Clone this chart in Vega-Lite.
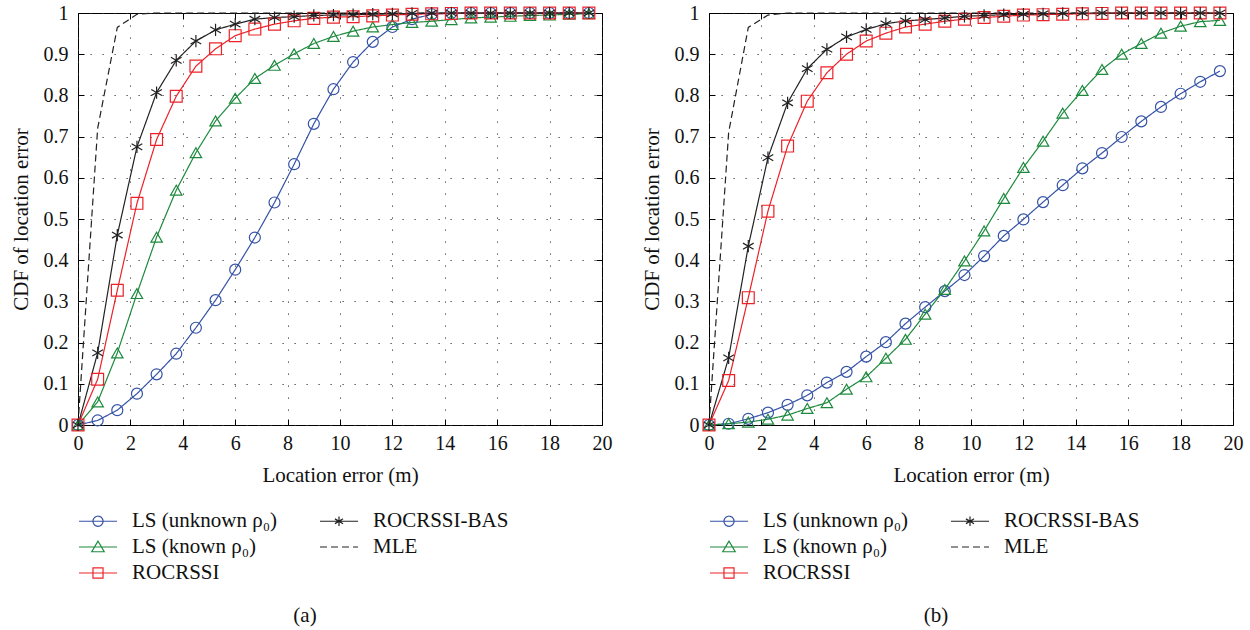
{
  "$schema": "https://vega.github.io/schema/vega-lite/v6.json",
  "background": "white",
  "padding": {"left": 9, "top": 2, "right": 5, "bottom": 2},
  "spacing": 27,
  "datasets": {
    "a": [
      {"x": 0, "u": 0, "k": 0, "r": 0, "b": 0, "m": 0},
      {"x": 0.75, "u": 0.011, "k": 0.056, "r": 0.111, "b": 0.175, "m": 0.72},
      {"x": 1.5, "u": 0.036, "k": 0.175, "r": 0.327, "b": 0.461, "m": 0.965},
      {"x": 2.25, "u": 0.076, "k": 0.319, "r": 0.538, "b": 0.675, "m": 0.997},
      {"x": 3, "u": 0.123, "k": 0.456, "r": 0.693, "b": 0.807, "m": 1},
      {"x": 3.75, "u": 0.173, "k": 0.57, "r": 0.798, "b": 0.885, "m": 1},
      {"x": 4.5, "u": 0.236, "k": 0.661, "r": 0.871, "b": 0.932, "m": 1},
      {"x": 5.25, "u": 0.303, "k": 0.738, "r": 0.913, "b": 0.959, "m": 1},
      {"x": 6, "u": 0.377, "k": 0.793, "r": 0.945, "b": 0.973, "m": 1},
      {"x": 6.75, "u": 0.455, "k": 0.841, "r": 0.961, "b": 0.985, "m": 1},
      {"x": 7.5, "u": 0.54, "k": 0.873, "r": 0.973, "b": 0.989, "m": 1},
      {"x": 8.25, "u": 0.633, "k": 0.901, "r": 0.981, "b": 0.991, "m": 1},
      {"x": 9, "u": 0.731, "k": 0.926, "r": 0.987, "b": 0.994, "m": 1},
      {"x": 9.75, "u": 0.815, "k": 0.943, "r": 0.99, "b": 0.995, "m": 1},
      {"x": 10.5, "u": 0.881, "k": 0.956, "r": 0.991, "b": 0.996, "m": 1},
      {"x": 11.25, "u": 0.93, "k": 0.966, "r": 0.993, "b": 0.997, "m": 1},
      {"x": 12, "u": 0.966, "k": 0.972, "r": 0.995, "b": 0.998, "m": 1},
      {"x": 12.75, "u": 0.985, "k": 0.977, "r": 0.997, "b": 0.999, "m": 1},
      {"x": 13.5, "u": 0.997, "k": 0.98, "r": 0.998, "b": 1, "m": 1},
      {"x": 14.25, "u": 1, "k": 0.984, "r": 0.999, "b": 1, "m": 1},
      {"x": 15, "u": 1, "k": 0.988, "r": 1, "b": 1, "m": 1},
      {"x": 15.75, "u": 1, "k": 0.99, "r": 1, "b": 1, "m": 1},
      {"x": 16.5, "u": 1, "k": 0.992, "r": 1, "b": 1, "m": 1},
      {"x": 17.25, "u": 1, "k": 0.994, "r": 1, "b": 1, "m": 1},
      {"x": 18, "u": 1, "k": 0.995, "r": 1, "b": 1, "m": 1},
      {"x": 18.75, "u": 1, "k": 0.997, "r": 1, "b": 1, "m": 1},
      {"x": 19.5, "u": 1, "k": 0.998, "r": 1, "b": 1, "m": 1}
    ],
    "b": [
      {"x": 0, "u": 0, "k": 0, "r": 0, "b": 0, "m": 0},
      {"x": 0.75, "u": 0.003, "k": 0.003, "r": 0.108, "b": 0.163, "m": 0.71},
      {"x": 1.5, "u": 0.015, "k": 0.007, "r": 0.309, "b": 0.434, "m": 0.965},
      {"x": 2.25, "u": 0.03, "k": 0.014, "r": 0.519, "b": 0.649, "m": 0.995},
      {"x": 3, "u": 0.049, "k": 0.024, "r": 0.677, "b": 0.782, "m": 1},
      {"x": 3.75, "u": 0.072, "k": 0.04, "r": 0.786, "b": 0.865, "m": 1},
      {"x": 4.5, "u": 0.103, "k": 0.054, "r": 0.855, "b": 0.912, "m": 1},
      {"x": 5.25, "u": 0.129, "k": 0.087, "r": 0.9, "b": 0.942, "m": 1},
      {"x": 6, "u": 0.166, "k": 0.117, "r": 0.932, "b": 0.96, "m": 1},
      {"x": 6.75, "u": 0.201, "k": 0.162, "r": 0.951, "b": 0.974, "m": 1},
      {"x": 7.5, "u": 0.246, "k": 0.208, "r": 0.966, "b": 0.981, "m": 1},
      {"x": 8.25, "u": 0.286, "k": 0.269, "r": 0.973, "b": 0.984, "m": 1},
      {"x": 9, "u": 0.325, "k": 0.329, "r": 0.98, "b": 0.988, "m": 1},
      {"x": 9.75, "u": 0.364, "k": 0.398, "r": 0.985, "b": 0.992, "m": 1},
      {"x": 10.5, "u": 0.41, "k": 0.471, "r": 0.989, "b": 0.994, "m": 1},
      {"x": 11.25, "u": 0.459, "k": 0.55, "r": 0.992, "b": 0.996, "m": 1},
      {"x": 12, "u": 0.499, "k": 0.625, "r": 0.995, "b": 0.997, "m": 1},
      {"x": 12.75, "u": 0.541, "k": 0.689, "r": 0.996, "b": 0.998, "m": 1},
      {"x": 13.5, "u": 0.582, "k": 0.757, "r": 0.997, "b": 0.999, "m": 1},
      {"x": 14.25, "u": 0.623, "k": 0.812, "r": 0.998, "b": 1, "m": 1},
      {"x": 15, "u": 0.66, "k": 0.863, "r": 0.999, "b": 1, "m": 1},
      {"x": 15.75, "u": 0.699, "k": 0.9, "r": 1, "b": 1, "m": 1},
      {"x": 16.5, "u": 0.737, "k": 0.926, "r": 1, "b": 1, "m": 1},
      {"x": 17.25, "u": 0.772, "k": 0.951, "r": 1, "b": 1, "m": 1},
      {"x": 18, "u": 0.804, "k": 0.968, "r": 1, "b": 1, "m": 1},
      {"x": 18.75, "u": 0.833, "k": 0.979, "r": 1, "b": 1, "m": 1},
      {"x": 19.5, "u": 0.859, "k": 0.982, "r": 1, "b": 1, "m": 1}
    ]
  },
  "config": {
    "font": "Liberation Serif, Times New Roman, DejaVu Serif, serif",
    "view": {"stroke": "#000", "strokeWidth": 1},
    "axis": {
      "labelFont": "Liberation Serif, Times New Roman, DejaVu Serif, serif",
      "labelFontSize": 20,
      "labelColor": "#111",
      "labelFlush": false,
      "titleFont": "Liberation Serif, Times New Roman, DejaVu Serif, serif",
      "titleFontSize": 21,
      "titleFontWeight": "normal",
      "titleColor": "#111",
      "domain": false,
      "tickColor": "#000",
      "tickSize": -6,
      "tickWidth": 1,
      "gridColor": "#333",
      "gridDash": [1.2, 10.8],
      "gridWidth": 1
    },
    "legend": {
      "orient": "none",
      "legendX": 9.5,
      "legendY": 497.5,
      "columns": 2,
      "symbolSize": 361,
      "symbolStrokeWidth": 1.2,
      "labelFont": "Liberation Serif, Times New Roman, DejaVu Serif, serif",
      "labelFontSize": 21,
      "labelColor": "#111",
      "labelOffset": 23.5,
      "rowPadding": 4,
      "columnPadding": 40,
      "padding": 0,
      "title": null
    },
    "title": {"font": "Liberation Serif, Times New Roman, DejaVu Serif, serif", "fontSize": 21, "fontWeight": "normal", "color": "#111"}
  },
  "resolve": {"scale": {"color": "independent", "shape": "independent", "strokeDash": "independent", "size": "independent", "strokeWidth": "independent"}, "legend": {"color": "independent"}},
  "hconcat": [
    {
      "width": 524,
      "height": 412,
      "data": {"name": "a"},
      "transform": [{"fold": ["u", "k", "r", "b", "m"], "as": ["s", "y"]}],
      "title": {"text": "(a)", "orient": "bottom", "anchor": "middle", "frame": "bounds", "offset": 21, "dx": -6},
      "layer": [
        {
          "mark": {"type": "line", "strokeWidth": 1.2},
          "encoding": {
            "x": {"field": "x", "type": "quantitative", "scale": {"domain": [0, 20], "nice": false},
              "axis": {"orient": "bottom", "values": [0, 2, 4, 6, 8, 10, 12, 14, 16, 18, 20], "title": "Location error (m)", "labelPadding": 14, "titlePadding": 11, "grid": true}},
            "y": {"field": "y", "type": "quantitative", "scale": {"domain": [0, 1], "nice": false},
              "axis": {"orient": "left", "values": [0, 0.1, 0.2, 0.3, 0.4, 0.5, 0.6, 0.7, 0.8, 0.9, 1], "format": ".1~f", "title": "CDF of location error", "labelPadding": 16, "titlePadding": 12, "grid": true}},
            "color": {"field": "s", "type": "nominal",
              "scale": {"domain": ["u", "k", "r", "b", "m"], "range": ["#3452a6", "#1d8a3e", "#ec2228", "#222222", "#222222"]},
              "legend": {
                "labelExpr": "datum.value == 'u' ? 'LS (unknown ρ₀)' : datum.value == 'k' ? 'LS (known ρ₀)' : datum.value == 'r' ? 'ROCRSSI' : datum.value == 'b' ? 'ROCRSSI-BAS' : 'MLE'",
                "encode": {"symbols": {"update": {
                  "shape": {"signal": "datum.value == 'u' ? 'M-2,0H2M-0.53,0A0.53,0.53 0 1,1 0.53,0A0.53,0.53 0 1,1 -0.53,0' : datum.value == 'k' ? 'M-2,0H2M0,-0.62L0.66,0.5L-0.66,0.5Z' : datum.value == 'r' ? 'M-2,0H2M-0.53,-0.53H0.53V0.53H-0.53Z' : datum.value == 'b' ? 'M-2,0H2M0,-0.5V0.5M-0.43,-0.25L0.43,0.25M-0.43,0.25L0.43,-0.25' : 'M-2,0H2'"},
                  "fill": {"value": "transparent"},
                  "strokeDash": {"signal": "datum.value == 'm' ? [6, 4] : [1, 0]"}
                }}}
              }},
            "strokeDash": {"field": "s", "type": "nominal",
              "scale": {"domain": ["u", "k", "r", "b", "m"], "range": [[1, 0], [1, 0], [1, 0], [1, 0], [7, 4]]},
              "legend": null}
          }
        },
        {
          "transform": [{"filter": "datum.s != 'm'"}],
          "mark": {"type": "point", "filled": false, "opacity": 1},
          "encoding": {
            "x": {"field": "x", "type": "quantitative", "axis": {"orient": "top", "values": [0, 2, 4, 6, 8, 10, 12, 14, 16, 18, 20], "labels": false, "title": null, "grid": false}},
            "y": {"field": "y", "type": "quantitative", "axis": {"orient": "right", "values": [0, 0.1, 0.2, 0.3, 0.4, 0.5, 0.6, 0.7, 0.8, 0.9, 1], "labels": false, "title": null, "grid": false}},
            "color": {"field": "s", "type": "nominal", "legend": null},
            "shape": {"field": "s", "type": "nominal", "scale": {"domain": ["u", "k", "r", "b"], "range": ["circle", "triangle-up", "square", "M0,-1V1M-0.87,-0.5L0.87,0.5M-0.87,0.5L0.87,-0.5"]}, "legend": null},
            "size": {"field": "s", "type": "nominal", "scale": {"domain": ["u", "k", "r", "b"], "range": [121, 150, 121, 90]}, "legend": null},
            "strokeWidth": {"field": "s", "type": "nominal", "scale": {"domain": ["u", "k", "r", "b"], "range": [1.2, 1.2, 1.2, 1.8]}, "legend": null}
          }
        }
      ],
      "resolve": {"axis": {"x": "independent", "y": "independent"}}
    },
    {
      "width": 524,
      "height": 412,
      "data": {"name": "b"},
      "transform": [{"fold": ["u", "k", "r", "b", "m"], "as": ["s", "y"]}],
      "title": {"text": "(b)", "orient": "bottom", "anchor": "middle", "frame": "bounds", "offset": 21, "dx": -6},
      "layer": [
        {
          "mark": {"type": "line", "strokeWidth": 1.2},
          "encoding": {
            "x": {"field": "x", "type": "quantitative", "scale": {"domain": [0, 20], "nice": false},
              "axis": {"orient": "bottom", "values": [0, 2, 4, 6, 8, 10, 12, 14, 16, 18, 20], "title": "Location error (m)", "labelPadding": 14, "titlePadding": 11, "grid": true}},
            "y": {"field": "y", "type": "quantitative", "scale": {"domain": [0, 1], "nice": false},
              "axis": {"orient": "left", "values": [0, 0.1, 0.2, 0.3, 0.4, 0.5, 0.6, 0.7, 0.8, 0.9, 1], "format": ".1~f", "title": "CDF of location error", "labelPadding": 16, "titlePadding": 12, "grid": true}},
            "color": {"field": "s", "type": "nominal",
              "scale": {"domain": ["u", "k", "r", "b", "m"], "range": ["#3452a6", "#1d8a3e", "#ec2228", "#222222", "#222222"]},
              "legend": {
                "labelExpr": "datum.value == 'u' ? 'LS (unknown ρ₀)' : datum.value == 'k' ? 'LS (known ρ₀)' : datum.value == 'r' ? 'ROCRSSI' : datum.value == 'b' ? 'ROCRSSI-BAS' : 'MLE'",
                "encode": {"symbols": {"update": {
                  "shape": {"signal": "datum.value == 'u' ? 'M-2,0H2M-0.53,0A0.53,0.53 0 1,1 0.53,0A0.53,0.53 0 1,1 -0.53,0' : datum.value == 'k' ? 'M-2,0H2M0,-0.62L0.66,0.5L-0.66,0.5Z' : datum.value == 'r' ? 'M-2,0H2M-0.53,-0.53H0.53V0.53H-0.53Z' : datum.value == 'b' ? 'M-2,0H2M0,-0.5V0.5M-0.43,-0.25L0.43,0.25M-0.43,0.25L0.43,-0.25' : 'M-2,0H2'"},
                  "fill": {"value": "transparent"},
                  "strokeDash": {"signal": "datum.value == 'm' ? [6, 4] : [1, 0]"}
                }}}
              }},
            "strokeDash": {"field": "s", "type": "nominal",
              "scale": {"domain": ["u", "k", "r", "b", "m"], "range": [[1, 0], [1, 0], [1, 0], [1, 0], [7, 4]]},
              "legend": null}
          }
        },
        {
          "transform": [{"filter": "datum.s != 'm'"}],
          "mark": {"type": "point", "filled": false, "opacity": 1},
          "encoding": {
            "x": {"field": "x", "type": "quantitative", "axis": {"orient": "top", "values": [0, 2, 4, 6, 8, 10, 12, 14, 16, 18, 20], "labels": false, "title": null, "grid": false}},
            "y": {"field": "y", "type": "quantitative", "axis": {"orient": "right", "values": [0, 0.1, 0.2, 0.3, 0.4, 0.5, 0.6, 0.7, 0.8, 0.9, 1], "labels": false, "title": null, "grid": false}},
            "color": {"field": "s", "type": "nominal", "legend": null},
            "shape": {"field": "s", "type": "nominal", "scale": {"domain": ["u", "k", "r", "b"], "range": ["circle", "triangle-up", "square", "M0,-1V1M-0.87,-0.5L0.87,0.5M-0.87,0.5L0.87,-0.5"]}, "legend": null},
            "size": {"field": "s", "type": "nominal", "scale": {"domain": ["u", "k", "r", "b"], "range": [121, 150, 121, 90]}, "legend": null},
            "strokeWidth": {"field": "s", "type": "nominal", "scale": {"domain": ["u", "k", "r", "b"], "range": [1.2, 1.2, 1.2, 1.8]}, "legend": null}
          }
        }
      ],
      "resolve": {"axis": {"x": "independent", "y": "independent"}}
    }
  ]
}
